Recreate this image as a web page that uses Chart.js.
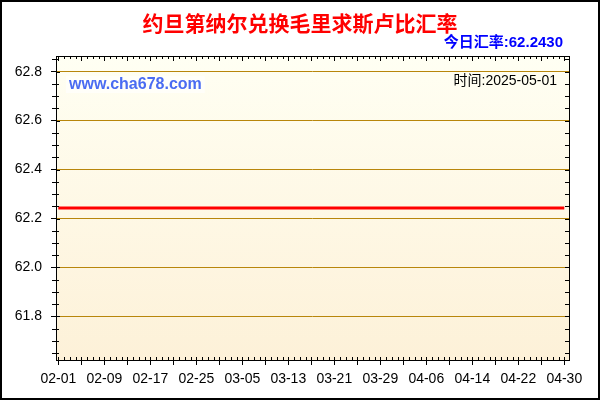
<!DOCTYPE html>
<html>
<head>
<meta charset="utf-8">
<script src="https://cdn.jsdelivr.net/npm/chart.js@4/dist/chart.umd.min.js"></script>
<style>
html,body{margin:0;padding:0;background:#fff;}
#wrap{width:600px;height:400px;position:relative;}
</style>
</head>
<body>
<div id="wrap"><canvas id="c" width="600" height="400"></canvas></div>
<script>
const titleText = '约旦第纳尔兑换毛里求斯卢比汇率';
const rateText = '今日汇率:62.2430';
const timeText = '时间:2025-05-01';
const siteText = 'www.cha678.com';

const dates = [
'02-01','02-02','02-03','02-04','02-05','02-06','02-07','02-08','02-09','02-10',
'02-11','02-12','02-13','02-14','02-15','02-16','02-17','02-18','02-19','02-20',
'02-21','02-22','02-23','02-24','02-25','02-26','02-27','02-28',
'03-01','03-02','03-03','03-04','03-05','03-06','03-07','03-08','03-09','03-10',
'03-11','03-12','03-13','03-14','03-15','03-16','03-17','03-18','03-19','03-20',
'03-21','03-22','03-23','03-24','03-25','03-26','03-27','03-28','03-29','03-30','03-31',
'04-01','04-02','04-03','04-04','04-05','04-06','04-07','04-08','04-09','04-10',
'04-11','04-12','04-13','04-14','04-15','04-16','04-17','04-18','04-19','04-20',
'04-21','04-22','04-23','04-24','04-25','04-26','04-27','04-28','04-29','04-30'
];

const rates = [
62.243,62.243,62.243,62.243,62.243,62.243,62.243,62.243,62.243,62.243,
62.243,62.243,62.243,62.243,62.243,62.243,62.243,62.243,62.243,62.243,
62.243,62.243,62.243,62.243,62.243,62.243,62.243,62.243,
62.243,62.243,62.243,62.243,62.243,62.243,62.243,62.243,62.243,62.243,
62.243,62.243,62.243,62.243,62.243,62.243,62.243,62.243,62.243,62.243,
62.243,62.243,62.243,62.243,62.243,62.243,62.243,62.243,62.243,62.243,62.243,
62.243,62.243,62.243,62.243,62.243,62.243,62.243,62.243,62.243,62.243,
62.243,62.243,62.243,62.243,62.243,62.243,62.243,62.243,62.243,62.243,
62.243,62.243,62.243,62.243,62.243,62.243,62.243,62.243,62.243,62.243
];

const yTicks = [61.8, 62.0, 62.2, 62.4, 62.6, 62.8];
const xLabelEvery = 8;
const xTickEvery = 4;

const points = rates.map((v, i) => ({x: i, y: v}));

const decor = {
  id: 'decor',
  beforeDraw(chart) {
    const ctx = chart.ctx, a = chart.chartArea;
    ctx.save();
    ctx.fillStyle = '#fff';
    ctx.fillRect(0, 0, chart.width, chart.height);
    const g = ctx.createLinearGradient(0, a.top, 0, a.bottom);
    g.addColorStop(0, '#fffff3');
    g.addColorStop(1, '#fdf1d8');
    ctx.fillStyle = g;
    ctx.fillRect(a.left, a.top, a.right - a.left, a.bottom - a.top);
    ctx.restore();
  },
  afterDatasetsDraw(chart) {
    const ctx = chart.ctx, a = chart.chartArea;
    const xs = chart.scales.x, ys = chart.scales.y;
    ctx.save();
    ctx.strokeStyle = '#000';
    ctx.lineWidth = 1;
    ctx.beginPath();
    for (let k = 0; k <= 30; k++) {
      const v = 61.6 + k * 0.05;
      if (v < ys.min || v > ys.max) continue;
      const py = Math.round(ys.getPixelForValue(v)) + 0.5;
      const major = Math.abs(Math.round(v * 10) / 10 - v) < 1e-6 && Math.round(v * 10) % 2 === 0;
      if (major) {
        ctx.moveTo(a.left, py); ctx.lineTo(a.left + 4, py);
      } else {
        ctx.moveTo(a.left - 4, py); ctx.lineTo(a.left + 3, py);
      }
      ctx.moveTo(a.right - 4, py); ctx.lineTo(a.right, py);
    }
    for (let i = 0; i < dates.length; i++) {
      const px = Math.round(xs.getPixelForValue(i)) + 0.5;
      const big = i % xTickEvery === 0;
      ctx.moveTo(px, a.bottom); ctx.lineTo(px, a.bottom - 3);
      ctx.moveTo(px, a.top); ctx.lineTo(px, a.top + (big ? 5 : 3));
    }
    ctx.stroke();
    ctx.strokeRect(Math.round(a.left) + 0.5, Math.round(a.top) + 0.5,
      Math.round(a.right - a.left), Math.round(a.bottom - a.top));
    ctx.restore();
  },
  afterDraw(chart) {
    const ctx = chart.ctx;
    ctx.save();
    ctx.strokeStyle = '#000';
    ctx.lineWidth = 2;
    ctx.strokeRect(1, 1, chart.width - 2, chart.height - 2);
    ctx.fillStyle = '#ff0000';
    ctx.font = 'bold 21px "Noto Sans CJK SC"';
    ctx.textAlign = 'center';
    ctx.textBaseline = 'middle';
    ctx.fillText(titleText, 300, 23);
    ctx.fillStyle = '#0000ff';
    ctx.font = 'bold 15px "Liberation Sans", "Noto Sans CJK SC"';
    ctx.textAlign = 'right';
    ctx.fillText(rateText, 563, 43);
    ctx.font = 'bold 16px "Liberation Sans"';
    ctx.textAlign = 'left';
    const w = ctx.measureText(siteText).width;
    ctx.fillStyle = 'rgba(255,255,255,0.6)';
    ctx.fillRect(66, 76, w + 6, 17);
    ctx.fillStyle = '#4a6cf2';
    ctx.fillText(siteText, 69, 85);
    ctx.fillStyle = '#000';
    ctx.font = '14px "Liberation Sans", "Noto Sans CJK SC"';
    ctx.textAlign = 'right';
    ctx.fillText(timeText, 557, 81);
    ctx.restore();
  }
};

new Chart(document.getElementById('c'), {
  type: 'line',
  data: {
    datasets: [{
      data: points,
      borderColor: '#ff0000',
      borderWidth: 3,
      pointRadius: 0,
      tension: 0,
      fill: false
    }]
  },
  options: {
    responsive: false,
    animation: false,
    devicePixelRatio: 1,
    layout: {padding: {top: 56, right: 31, left: 0, bottom: 0}},
    plugins: {legend: {display: false}, tooltip: {enabled: false}, title: {display: false}},
    scales: {
      x: {
        type: 'linear',
        min: -0.4,
        max: 88.82,
        afterFit(s) { s.height = 40; },
        afterBuildTicks(s) {
          const t = [];
          for (let i = 0; i < dates.length; i += xTickEvery) t.push({value: i});
          s.ticks = t;
        },
        border: {display: false},
        grid: {drawOnChartArea: false, drawTicks: true, tickLength: 5, tickColor: '#000', color: '#000'},
        ticks: {
          autoSkip: false,
          maxRotation: 0,
          padding: 6,
          color: '#000',
          font: {family: '"Liberation Sans"', size: 14},
          callback(v) { return (v % xLabelEvery === 0) ? dates[v] : ''; }
        }
      },
      y: {
        type: 'linear',
        min: 61.622,
        max: 62.864,
        afterFit(s) { s.width = 56; },
        afterBuildTicks(s) { s.ticks = yTicks.map(v => ({value: v})); },
        border: {display: false},
        grid: {color: '#b8860b', lineWidth: 1, drawTicks: true, tickLength: 5, tickColor: '#000'},
        ticks: {
          padding: 9,
          color: '#000',
          font: {family: '"Liberation Sans"', size: 14},
          callback(v) { return v.toFixed(1); }
        }
      }
    }
  },
  plugins: [decor]
});
</script>
</body>
</html>
